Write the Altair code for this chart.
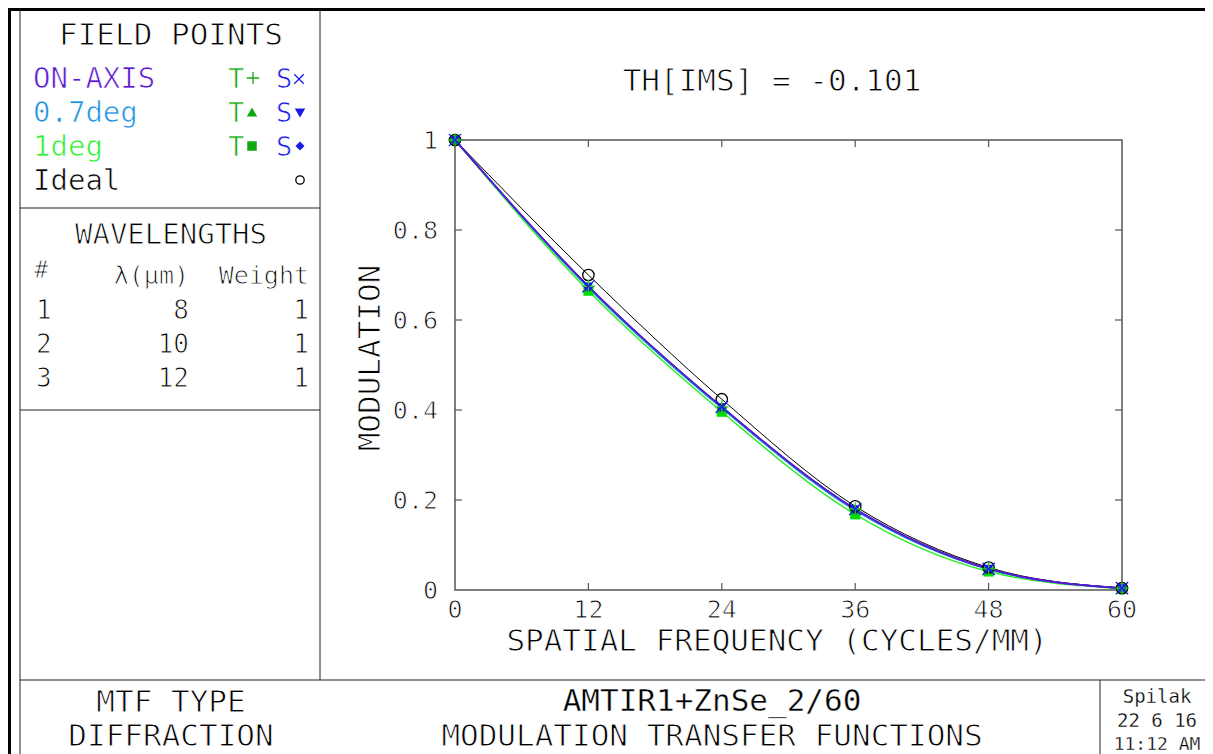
import altair as alt
import pandas as pd

FONT = "DejaVu Sans Mono"

# ---------------- data ----------------
freq = [0, 12, 24, 36, 48, 60]
mtf_ideal = [1.0, 0.700, 0.424, 0.186, 0.050, 0.004]
mtf_on_t = [1.0, 0.675, 0.407, 0.180, 0.047, 0.004]
mtf_on_s = [1.0, 0.675, 0.407, 0.180, 0.047, 0.004]
mtf_07_t = [1.0, 0.672, 0.404, 0.177, 0.046, 0.004]
mtf_07_s = [1.0, 0.674, 0.406, 0.179, 0.047, 0.004]
mtf_1_t = [1.0, 0.665, 0.396, 0.168, 0.041, 0.003]
mtf_1_s = [1.0, 0.672, 0.405, 0.178, 0.046, 0.004]

x_ticks = [0, 12, 24, 36, 48, 60]
x_labels = ["0", "12", "24", "36", "48", "60"]
y_ticks = [0, 0.2, 0.4, 0.6, 0.8, 1.0]
y_labels = ["0", "0.2", "0.4", "0.6", "0.8", "1"]
x_inner_ticks = [12, 24, 36, 48]
y_inner_ticks = [0.2, 0.4, 0.6, 0.8]

field_names = ["ON-AXIS", "0.7deg", "1deg", "Ideal"]
wl_header = ["#", "λ(μm)", "Weight"]
wl_num = ["1", "2", "3"]
wl_lambda = ["8", "10", "12"]
wl_weight = ["1", "1", "1"]
plot_title = "TH[IMS] = -0.101"
x_title = "SPATIAL FREQUENCY (CYCLES/MM)"
y_title = "MODULATION"
box_field = "FIELD POINTS"
box_wl = "WAVELENGTHS"
foot_left = ["MTF TYPE", "DIFFRACTION"]
foot_mid = ["AMTIR1+ZnSe_2/60", "MODULATION TRANSFER FUNCTIONS"]
foot_right = ["Spilak", "22 6 16", "11:12 AM"]

# ---------------- styles ----------------
C_ON = "#5a1ad0"
C_07 = "#1a90e0"
C_1 = "#30ee30"
C_T = "#10a810"
C_S = "#1a1ae8"
PLUS = "M-1,0L1,0M0,-1L0,1"
XCROSS = "M-1,-1L1,1M-1,1L1,-1"
THIN = 0.9                 # white halo that thins the glyph strokes

OX, OY = 455, 140          # page position of the plot origin
W, H = 667, 450
CW, CH = 1197, 746         # canvas size

xscale = alt.Scale(domain=[0, 60], nice=False, zero=False)
yscale = alt.Scale(domain=[0, 1], nice=False, zero=False)


def X(field="freq"):
    return alt.X(f"{field}:Q", scale=xscale, axis=None)


def Y(field="mtf"):
    return alt.Y(f"{field}:Q", scale=yscale, axis=None)


def df(vals):
    return pd.DataFrame({"freq": freq, "mtf": vals})


layers = []

# curves (drawn back to front)
for vals, col, w in [(mtf_1_t, C_1, 1.5), (mtf_1_s, C_1, 1.5),
                     (mtf_07_t, C_07, 1.5), (mtf_07_s, C_07, 1.5),
                     (mtf_ideal, "black", 1.0),
                     (mtf_on_t, C_ON, 1.6), (mtf_on_s, C_ON, 1.6)]:
    layers.append(alt.Chart(df(vals)).mark_line(
        interpolate="monotone", color=col, strokeWidth=w).encode(x=X(), y=Y()))

# markers
for vals, shape, col, filled, size in [
        (mtf_1_t, "square", "#00dd00", True, 100),
        (mtf_07_t, "triangle-up", C_T, True, 90),
        (mtf_1_s, "diamond", C_S, True, 90),
        (mtf_07_s, "triangle-down", C_S, True, 90),
        (mtf_ideal, "circle", "black", False, 130),
        (mtf_on_t, PLUS, "#22cc22", False, 170),
        (mtf_on_s, XCROSS, C_S, False, 150)]:
    kw = dict(shape=shape, color=col, filled=filled, size=size, opacity=1)
    if not filled:
        kw["strokeWidth"] = 1.3
    layers.append(alt.Chart(df(vals)).mark_point(**kw).encode(x=X(), y=Y()))

# inward ticks on all four sides
tx = pd.DataFrame({"freq": x_inner_ticks})
ty = pd.DataFrame({"mtf": y_inner_ticks})
layers.append(alt.Chart(tx).mark_rule(color="#555", strokeWidth=1.2).encode(
    x=X(), y=alt.value(0), y2=alt.value(7)))
layers.append(alt.Chart(tx).mark_rule(color="#555", strokeWidth=1.2).encode(
    x=X(), y=alt.value(H - 7), y2=alt.value(H)))
layers.append(alt.Chart(ty).mark_rule(color="#555", strokeWidth=1.2).encode(
    y=Y(), x=alt.value(0), x2=alt.value(7)))
layers.append(alt.Chart(ty).mark_rule(color="#555", strokeWidth=1.2).encode(
    y=Y(), x=alt.value(W - 7), x2=alt.value(W)))

# tick labels (through the scales)
xl = pd.DataFrame({"freq": x_ticks, "lab": x_labels})
yl = pd.DataFrame({"mtf": y_ticks, "lab": y_labels})
layers.append(alt.Chart(xl).mark_text(
    font=FONT, fontSize=25, align="center", baseline="alphabetic",
    color="black", stroke="white", strokeWidth=THIN).encode(
    x=X(), y=alt.value(618 - OY), text="lab:N"))
layers.append(alt.Chart(yl).mark_text(
    font=FONT, fontSize=25, align="right", baseline="alphabetic", dy=9,
    color="black", stroke="white", strokeWidth=THIN).encode(
    y=Y(), x=alt.value(438 - OX), text="lab:N"))

one = pd.DataFrame({"k": [0]})


def text(s, px, py, size, color="black", align="left", angle=0, thin=THIN):
    return alt.Chart(one).mark_text(
        text=s, font=FONT, fontSize=size, color=color, align=align,
        baseline="alphabetic", angle=angle,
        stroke="white", strokeWidth=thin).encode(
        x=alt.value(px - OX), y=alt.value(py - OY))


def rule(x1, y1, x2, y2, w=1.0, color="#222"):
    return alt.Chart(one).mark_rule(color=color, strokeWidth=w).encode(
        x=alt.value(x1 - OX), x2=alt.value(x2 - OX),
        y=alt.value(y1 - OY), y2=alt.value(y2 - OY))


def sym(shape, px, py, color, filled, size):
    kw = dict(shape=shape, color=color, filled=filled, size=size, opacity=1)
    if not filled:
        kw["strokeWidth"] = 1.3
    return alt.Chart(one).mark_point(**kw).encode(
        x=alt.value(px - OX), y=alt.value(py - OY))


# frame
layers += [
    rule(8, 9.5, 1213, 9.5, 3, "black"),
    rule(9.5, 8, 9.5, 754, 3, "black"),
    rule(20, 9, 20, 754),
    rule(320, 9, 320, 680),
    rule(20, 208, 320, 208),
    rule(20, 410, 320, 410),
    rule(20, 680, 1213, 680),
    rule(1100, 680, 1100, 754),
]

# field point box
layers.append(text(box_field, 171, 45, 31, align="center"))
name_cols = [C_ON, C_07, C_1, "black"]
row_y = [88, 122, 156, 190]
for nm, c, yb in zip(field_names, name_cols, row_y):
    layers.append(text(nm, 33, yb, 29, color=c, thin=0.7))
for yb in row_y[:3]:
    layers.append(text("T", 228, yb, 27, color=C_T, thin=0.7))
    layers.append(text("S", 276, yb, 27, color=C_S, thin=0.7))
layers += [
    sym(PLUS, 253, 78, C_T, False, 150),
    sym(XCROSS, 299, 79, C_S, False, 90),
    sym("triangle-up", 252, 112, C_T, True, 110),
    sym("triangle-down", 300, 113, C_S, True, 110),
    sym("square", 252, 146, C_T, True, 90),
    sym("diamond", 300, 146, C_S, True, 80),
    sym("circle", 300, 180, "black", False, 70),
]

# wavelengths box
layers.append(text(box_wl, 171, 244, 29, align="center"))
layers.append(text(wl_header[0], 34, 278, 24))
layers.append(text(wl_header[1], 189, 284, 25, align="right"))
layers.append(text(wl_header[2], 309, 284, 25, align="right"))
for i, yb in enumerate([319, 353, 387]):
    layers.append(text(wl_num[i], 36, yb, 26))
    layers.append(text(wl_lambda[i], 189, yb, 26, align="right"))
    layers.append(text(wl_weight[i], 309, yb, 26, align="right"))

# plot titles
layers.append(text(plot_title, 772, 91, 31, align="center"))
layers.append(text(x_title, 777, 651, 31, align="center"))
layers.append(text(y_title, 380, 358, 31, align="center", angle=270))

# footer
layers.append(text(foot_left[0], 171, 712, 31, align="center"))
layers.append(text(foot_left[1], 171, 746, 31, align="center"))
layers.append(text(foot_mid[0], 712, 711, 31, align="center", thin=0.4))
layers.append(text(foot_mid[1], 712, 746, 31, align="center"))
layers.append(text(foot_right[0], 1157, 703, 19, align="center", thin=0.3))
layers.append(text(foot_right[1], 1157, 727, 19, align="center", thin=0.3))
layers.append(text(foot_right[2], 1157, 750, 18, align="center", thin=0.3))

chart = alt.layer(*layers).properties(
    width=W, height=H,
    padding={"left": OX - 8, "top": OY - 8,
             "right": CW - (OX - 8) - W, "bottom": CH - (OY - 8) - H},
    autosize=alt.AutoSizeParams(type="none"),
    background="white",
).configure_view(stroke="#555", strokeWidth=1.5)

chart.save("out.html", embed_options={"renderer": "svg", "actions": False})
